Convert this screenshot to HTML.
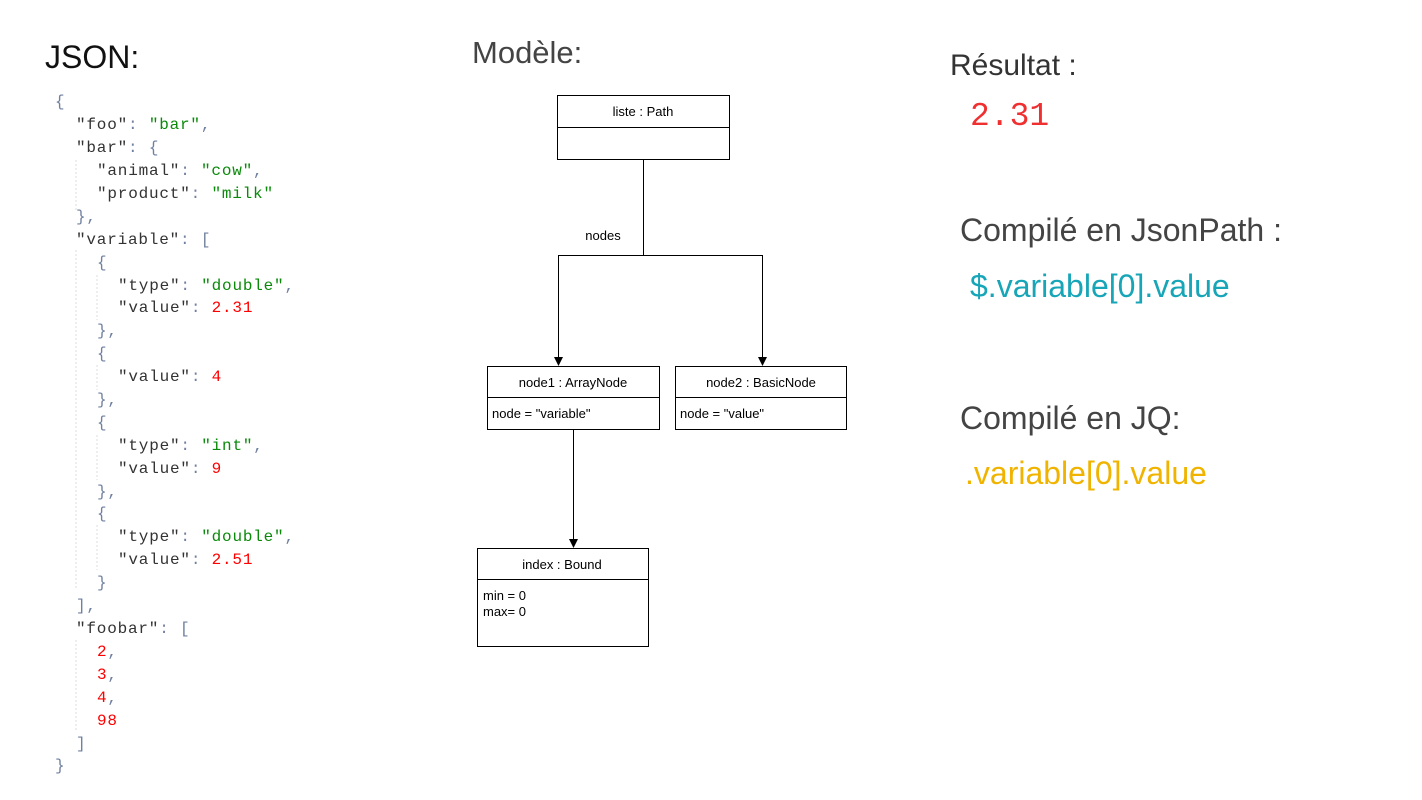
<!DOCTYPE html>
<html><head><meta charset="utf-8"><style>
html,body{margin:0;padding:0;background:#fff;width:1422px;height:800px;overflow:hidden}
svg{display:block}
.m{font-family:"Liberation Mono",monospace;font-size:16px;letter-spacing:0.8px}
.k{fill:#333}.s{fill:#0a8a0a}.n{fill:#f00}.p{fill:#7080a0}
.d{font-family:"Liberation Sans",sans-serif;font-size:13px;fill:#000}
</style></head><body>
<svg width="1422" height="800" xmlns="http://www.w3.org/2000/svg">
<g font-family="Liberation Sans, sans-serif">
<text x="45" y="68" font-size="32" fill="#111">JSON:</text>
<text x="472" y="63" font-size="31" fill="#444">Modèle:</text>
<text x="950" y="75" font-size="30" fill="#333">Résultat :</text>
<text x="960" y="241" font-size="32" fill="#444">Compilé en JsonPath :</text>
<text x="970" y="297" font-size="32" fill="#17a5b8">$.variable[0].value</text>
<text x="960" y="429" font-size="32" fill="#444">Compilé en JQ:</text>
<text x="965" y="484" font-size="32" fill="#f0b400">.variable[0].value</text>
</g>
<text x="970" y="125" font-family="Liberation Mono, monospace" font-size="33" fill="#f03030">2.31</text>
<g stroke="#ddd" stroke-dasharray="2,2">
<line x1="76" y1="160" x2="76" y2="210"/><line x1="76" y1="250" x2="76" y2="590"/>
<line x1="97" y1="275" x2="97" y2="320"/><line x1="97" y1="365" x2="97" y2="390"/>
<line x1="97" y1="435" x2="97" y2="480"/><line x1="97" y1="525" x2="97" y2="570"/>
<line x1="76" y1="640" x2="76" y2="730"/>
</g>
<g class="m">
<text x="55" y="106" class="p">{</text>
<text x="76" y="129"><tspan class="k">"foo"</tspan><tspan class="p">: </tspan><tspan class="s">"bar"</tspan><tspan class="p">,</tspan></text>
<text x="76" y="152"><tspan class="k">"bar"</tspan><tspan class="p">: {</tspan></text>
<text x="97" y="175"><tspan class="k">"animal"</tspan><tspan class="p">: </tspan><tspan class="s">"cow"</tspan><tspan class="p">,</tspan></text>
<text x="97" y="198"><tspan class="k">"product"</tspan><tspan class="p">: </tspan><tspan class="s">"milk"</tspan></text>
<text x="76" y="221" class="p">},</text>
<text x="76" y="244"><tspan class="k">"variable"</tspan><tspan class="p">: [</tspan></text>
<text x="97" y="267" class="p">{</text>
<text x="118" y="290"><tspan class="k">"type"</tspan><tspan class="p">: </tspan><tspan class="s">"double"</tspan><tspan class="p">,</tspan></text>
<text x="118" y="312"><tspan class="k">"value"</tspan><tspan class="p">: </tspan><tspan class="n">2.31</tspan></text>
<text x="97" y="335" class="p">},</text>
<text x="97" y="358" class="p">{</text>
<text x="118" y="381"><tspan class="k">"value"</tspan><tspan class="p">: </tspan><tspan class="n">4</tspan></text>
<text x="97" y="404" class="p">},</text>
<text x="97" y="427" class="p">{</text>
<text x="118" y="450"><tspan class="k">"type"</tspan><tspan class="p">: </tspan><tspan class="s">"int"</tspan><tspan class="p">,</tspan></text>
<text x="118" y="473"><tspan class="k">"value"</tspan><tspan class="p">: </tspan><tspan class="n">9</tspan></text>
<text x="97" y="496" class="p">},</text>
<text x="97" y="518" class="p">{</text>
<text x="118" y="541"><tspan class="k">"type"</tspan><tspan class="p">: </tspan><tspan class="s">"double"</tspan><tspan class="p">,</tspan></text>
<text x="118" y="564"><tspan class="k">"value"</tspan><tspan class="p">: </tspan><tspan class="n">2.51</tspan></text>
<text x="97" y="587" class="p">}</text>
<text x="76" y="610" class="p">],</text>
<text x="76" y="633"><tspan class="k">"foobar"</tspan><tspan class="p">: [</tspan></text>
<text x="97" y="656"><tspan class="n">2</tspan><tspan class="p">,</tspan></text>
<text x="97" y="679"><tspan class="n">3</tspan><tspan class="p">,</tspan></text>
<text x="97" y="702"><tspan class="n">4</tspan><tspan class="p">,</tspan></text>
<text x="97" y="725" class="n">98</text>
<text x="76" y="748" class="p">]</text>
<text x="55" y="770" class="p">}</text>
</g>
<g fill="#fff" stroke="#000" stroke-width="1">
<rect x="557.5" y="95.5" width="172" height="64"/><line x1="557" y1="127.5" x2="730" y2="127.5"/>
<rect x="487.5" y="366.5" width="172" height="63"/><line x1="487" y1="397.5" x2="660" y2="397.5"/>
<rect x="675.5" y="366.5" width="171" height="63"/><line x1="675" y1="397.5" x2="847" y2="397.5"/>
<rect x="477.5" y="548.5" width="171" height="98"/><line x1="477" y1="579.5" x2="649" y2="579.5"/>
</g>
<g stroke="#000" fill="none">
<polyline points="643.5,160 643.5,255.5 558.5,255.5 558.5,358"/>
<polyline points="643.5,255.5 762.5,255.5 762.5,358"/>
<line x1="573.5" y1="430" x2="573.5" y2="540"/>
</g>
<g fill="#000">
<polygon points="554,357 563,357 558.5,366"/>
<polygon points="758,357 767,357 762.5,366"/>
<polygon points="569,539 578,539 573.5,548"/>
</g>
<rect x="578" y="225" width="50" height="18" fill="#fff"/>
<text x="603" y="240" class="d" text-anchor="middle">nodes</text>
<text x="643" y="116" class="d" text-anchor="middle">liste : Path</text>
<text x="573" y="387" class="d" text-anchor="middle">node1 : ArrayNode</text>
<text x="761" y="387" class="d" text-anchor="middle">node2 : BasicNode</text>
<text x="492" y="418" class="d">node = "variable"</text>
<text x="680" y="418" class="d">node = "value"</text>
<text x="562" y="569" class="d" text-anchor="middle">index : Bound</text>
<text x="483" y="600" class="d">min = 0</text>
<text x="483" y="616" class="d">max= 0</text>
</svg>
</body></html>
